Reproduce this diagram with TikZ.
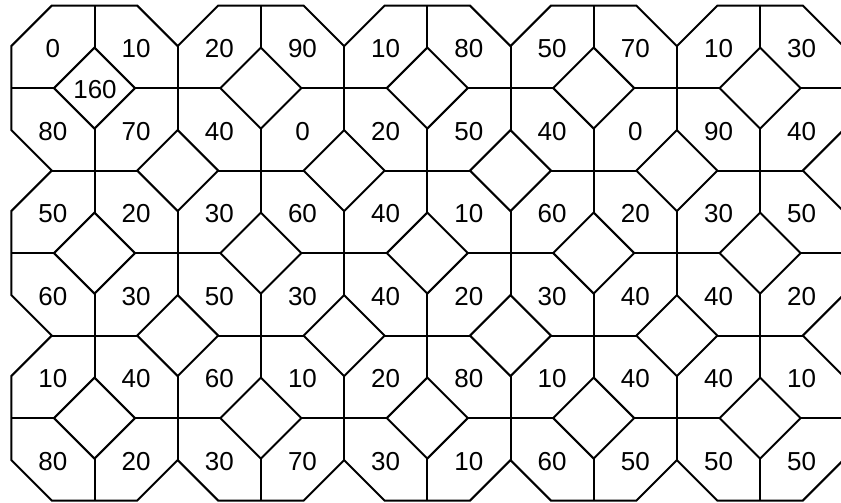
\documentclass[tikz,border=0pt]{standalone}
\usepackage{fontspec}
\setmainfont{Liberation Sans}
\begin{document}
\begin{tikzpicture}[x=1pt,y=-1pt,
  edge/.style={draw=black, line width=2pt, line join=miter},
  num/.style={font=\fontsize{26}{26}\selectfont, inner sep=0pt}]
\def\sx{83.2}\def\sy{82.5}\def\ox{11.3}\def\oy{5.6}\def\hh{40.5}
\useasboundingbox (0,0) rectangle (841,503);
\clip (0,0) rectangle (841,503);
% interior grid lines
\foreach \i in {1,...,9} {
  \pgfmathsetmacro\cut{mod(\i,2)==0 ? \hh : 0}
  \draw[edge] ({\ox+\i*\sx},{\oy+\cut}) -- ({\ox+\i*\sx},{\oy+6*\sy-\cut});
}
\foreach \j in {1,...,5} {
  \pgfmathsetmacro\cut{mod(\j,2)==0 ? \hh : 0}
  \draw[edge] ({\ox+\cut},{\oy+\j*\sy}) -- ({\ox+10*\sx-\cut},{\oy+\j*\sy});
}
% interior diamonds
\foreach \i in {1,...,9} {
  \foreach \j in {1,...,5} {
    \pgfmathtruncatemacro\myparity{mod(\i+\j,2)}
    \ifnum\myparity=0
      \draw[edge, fill=white] ({\ox+\i*\sx-\hh},{\oy+\j*\sy}) -- ++(\hh,-\hh) -- ++(\hh,\hh) -- ++(-\hh,\hh) -- cycle;
    \fi
  }
}
% outline
\draw[edge] ({\ox},{\oy+\hh}) -- ({\ox+\hh},{\oy})
  \foreach \i in {2,4,6,8} {-- ({\ox+\i*\sx-\hh},{\oy}) -- ({\ox+\i*\sx},{\oy+\hh}) -- ({\ox+\i*\sx+\hh},{\oy})}
  -- ({\ox+10*\sx-\hh},{\oy}) -- ({\ox+10*\sx},{\oy+\hh})
  \foreach \j in {2,4} {-- ({\ox+10*\sx},{\oy+\j*\sy-\hh}) -- ({\ox+10*\sx-\hh},{\oy+\j*\sy}) -- ({\ox+10*\sx},{\oy+\j*\sy+\hh})}
  -- ({\ox+10*\sx},{\oy+6*\sy-\hh}) -- ({\ox+10*\sx-\hh},{\oy+6*\sy})
  \foreach \i in {8,6,4,2} {-- ({\ox+\i*\sx+\hh},{\oy+6*\sy}) -- ({\ox+\i*\sx},{\oy+6*\sy-\hh}) -- ({\ox+\i*\sx-\hh},{\oy+6*\sy})}
  -- ({\ox+\hh},{\oy+6*\sy}) -- ({\ox},{\oy+6*\sy-\hh})
  \foreach \j in {4,2} {-- ({\ox},{\oy+\j*\sy+\hh}) -- ({\ox+\hh},{\oy+\j*\sy}) -- ({\ox},{\oy+\j*\sy-\hh})}
  -- cycle;
% numbers
\foreach \row [count=\r from 0] in {
  {0,10,20,90,10,80,50,70,10,30},
  {80,70,40,0,20,50,40,0,90,40},
  {50,20,30,60,40,10,60,20,30,50},
  {60,30,50,30,40,20,30,40,40,20},
  {10,40,60,10,20,80,10,40,40,10},
  {80,20,30,70,30,10,60,50,50,50}} {
  \foreach \v [count=\c from 0] in \row {
    \node[num] (n-\r-\c) at ({\ox+(\c+0.5)*\sx},{\oy+(\r+0.5)*\sy+2}) {\v};
  }
}
\node[num] (center160) at ({\ox+\sx+0.5},{\oy+\sy+1}) {160};
\end{tikzpicture}
\end{document}
